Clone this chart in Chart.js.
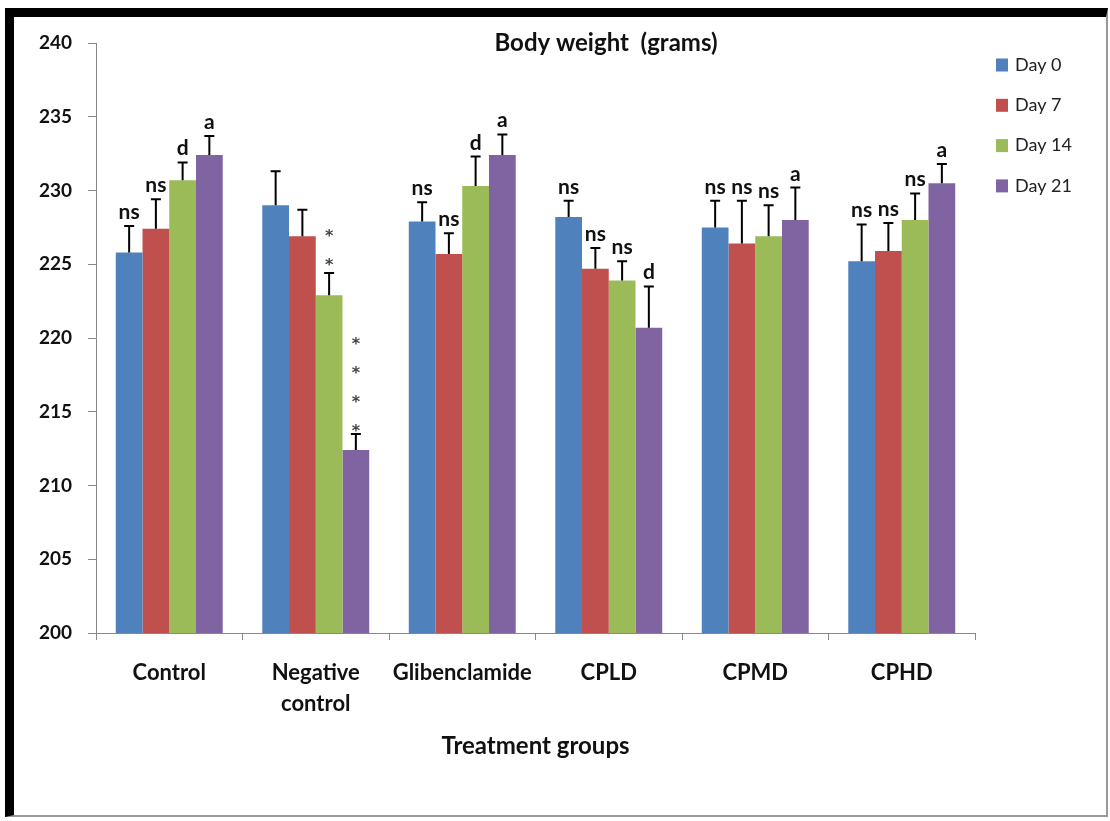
<!DOCTYPE html>
<html>
<head>
<meta charset="utf-8">
<script src="https://cdn.jsdelivr.net/npm/chart.js@4"></script>
<style>
html, body { margin: 0; padding: 0; background: #fff; }
#wrap { position: relative; width: 1110px; height: 821px; }
#frame { position: absolute; left: 5px; top: 8px; width: 1092px; height: 798px;
  border-left: 9px solid #000; border-top: 9px solid #000;
  border-right: 2px solid #999; border-bottom: 2px solid #999; pointer-events: none; }
canvas { position: absolute; left: 0; top: 0; }
</style>
</head>
<body>
<div id="wrap">
  <canvas id="myChart" width="1110" height="821"></canvas>
  <div id="frame"></div>
</div>
<script>
const groups = ['Control', ['Negative', 'control'], 'Glibenclamide', 'CPLD', 'CPMD', 'CPHD'];
const seriesNames = ['Day 0', 'Day 7', 'Day 14', 'Day 21'];
const seriesColors = ['#4F81BD', '#C0504D', '#9BBB59', '#8064A2'];

const day0 = [225.8, 229.0, 227.9, 228.2, 227.5, 225.2];
const day7 = [227.4, 226.9, 225.7, 224.7, 226.4, 225.9];
const day14 = [230.7, 222.9, 230.3, 223.9, 226.9, 228.0];
const day21 = [232.4, 212.4, 232.4, 220.7, 228.0, 230.5];

const err0 = [1.8, 2.3, 1.3, 1.1, 1.8, 2.5];
const err7 = [2.0, 1.8, 1.4, 1.4, 2.9, 1.9];
const err14 = [1.2, 1.5, 2.0, 1.3, 2.1, 1.8];
const err21 = [1.3, 1.1, 1.4, 2.8, 2.2, 1.3];

const sig0 = ['ns', '', 'ns', 'ns', 'ns', 'ns'];
const sig7 = ['ns', '', 'ns', 'ns', 'ns', 'ns'];
const sig14 = ['d', '**', 'd', 'ns', 'ns', 'ns'];
const sig21 = ['a', '****', 'a', 'd', 'a', 'a'];

const yMin = 200, yMax = 240, yStep = 5;

const values = [day0, day7, day14, day21];
const errors = [err0, err7, err14, err21];
const sigs = [sig0, sig7, sig14, sig21];

const fontFam = 'Lato, "Liberation Sans", sans-serif';

// error bars, significance marks, title and legend
const extras = {
    id: 'extras',
    afterDatasetsDraw(chart) {
        const ctx = chart.ctx;
        const y = chart.scales.y;
        ctx.save();
        chart.data.datasets.forEach((ds, i) => {
            const meta = chart.getDatasetMeta(i);
            meta.data.forEach((bar, j) => {
                const top = y.getPixelForValue(ds.data[j] + errors[i][j]);
                ctx.strokeStyle = '#000';
                ctx.lineWidth = 2;
                ctx.beginPath();
                ctx.moveTo(bar.x, bar.y);
                ctx.lineTo(bar.x, top);
                ctx.moveTo(bar.x - 5, top);
                ctx.lineTo(bar.x + 5, top);
                ctx.stroke();

                const s = sigs[i][j];
                if (!s) return;
                ctx.textAlign = 'center';
                if (s[0] === '*') {
                    ctx.fillStyle = '#444';
                    ctx.font = 'bold 16px "DejaVu Sans", sans-serif';
                    ctx.textBaseline = 'alphabetic';
                    const off = s.length === 2 ? 12 : 7;
                    for (let k = 0; k < s.length; k++) {
                        ctx.fillText('*', bar.x, top - off - k * 29 + 9);
                    }
                } else {
                    ctx.fillStyle = '#111';
                    ctx.font = 'bold 21px ' + fontFam;
                    ctx.textBaseline = 'alphabetic';
                    ctx.fillText(s, bar.x, top - 7);
                }
            });
        });

        ctx.fillStyle = '#111';
        ctx.font = 'bold 24px ' + fontFam;
        ctx.textAlign = 'center';
        ctx.textBaseline = 'middle';
        ctx.fillText('Body weight  (grams)', 606, 43);

        ctx.font = '18px ' + fontFam;
        ctx.textAlign = 'left';
        chart.data.datasets.forEach((ds, i) => {
            const cy = 65 + i * 40.3;
            ctx.fillStyle = ds.backgroundColor;
            ctx.fillRect(996, cy - 6.5, 12, 13);
            ctx.fillStyle = '#222';
            ctx.fillText(ds.label, 1015, cy);
        });
        ctx.restore();
    }
};

new Chart(document.getElementById('myChart').getContext('2d'), {
    type: 'bar',
    data: {
        labels: groups,
        datasets: seriesNames.map((name, i) => ({
            label: name,
            data: values[i],
            backgroundColor: seriesColors[i],
            borderWidth: 0,
            categoryPercentage: 0.73,
            barPercentage: 1.0
        }))
    },
    options: {
        responsive: false,
        animation: false,
        layout: { padding: { left: 20, right: 135, top: 43, bottom: 53 } },
        plugins: {
            legend: { display: false },
            tooltip: { enabled: false }
        },
        scales: {
            x: {
                grid: { drawOnChartArea: false, drawTicks: true, tickLength: 7, color: '#888', offset: true },
                border: { color: '#888', width: 1 },
                ticks: {
                    color: '#111',
                    padding: 17,
                    maxRotation: 0,
                    font: { family: fontFam, size: 22, weight: 'bold', lineHeight: 1.41 }
                },
                title: {
                    display: true,
                    text: 'Treatment groups',
                    color: '#111',
                    font: { family: fontFam, size: 24, weight: 'bold' },
                    padding: { top: 4, bottom: 7 }
                },
                afterFit(s) { s.height = 135; }
            },
            y: {
                min: yMin,
                max: yMax,
                grid: { drawOnChartArea: false, drawTicks: true, tickLength: 8, color: '#888' },
                border: { color: '#888', width: 1 },
                ticks: {
                    stepSize: yStep,
                    color: '#111',
                    padding: 16,
                    font: { family: fontFam, size: 19, weight: 'bold' }
                },
                afterFit(s) { s.width = 76; }
            }
        }
    },
    plugins: [extras]
});
</script>
</body>
</html>
